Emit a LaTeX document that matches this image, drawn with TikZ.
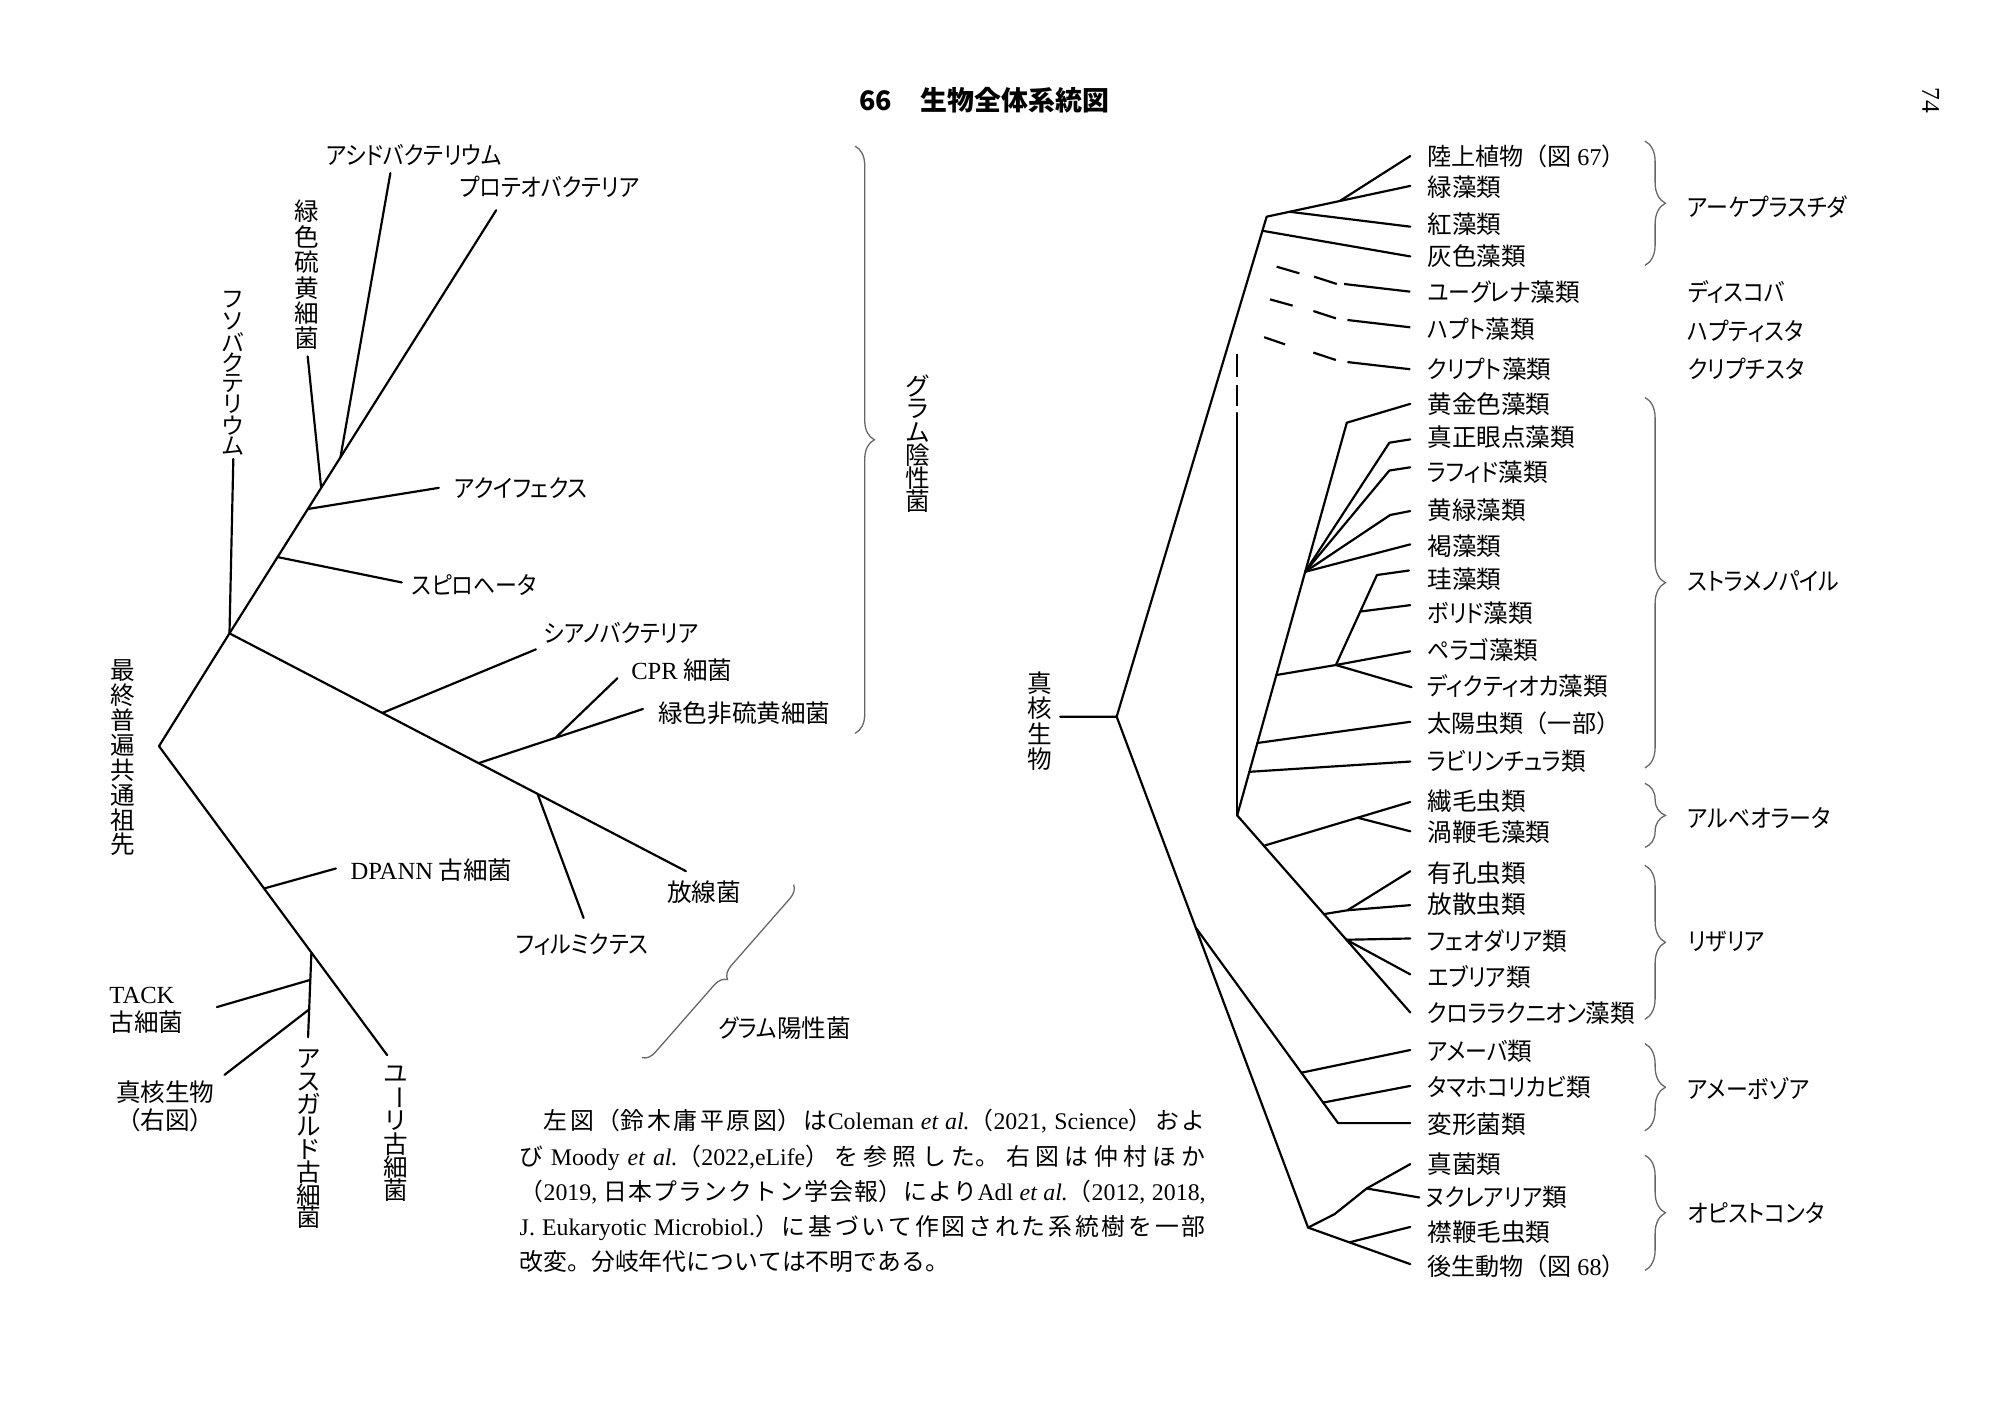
\documentclass[tikz,border=0pt]{standalone}
\usepackage{fontspec}
\setmainfont{Noto Sans CJK JP}[RawFeature={+palt}]
\newfontfamily\vfont{Noto Sans CJK JP}
\newfontfamily\knf{Noto Sans CJK JP}[RawFeature={+palt}, FakeStretch=0.89]
\newfontfamily\lat{Liberation Serif}
\newcommand\kn[1]{{\knf #1}}
\usetikzlibrary{decorations.pathreplacing}
\tikzset{
  br/.style={line width=0.85pt, line cap=round, line join=round},
  dsh/.style={line width=0.85pt, line cap=butt},
  lab/.style={inner sep=0pt, font=\fontsize{9.6}{11}\selectfont},
  flab/.style={inner sep=0pt, font=\vfont\fontsize{9.4}{11}\selectfont},
  vch/.style={inner sep=0pt, font=\vfont\fontsize{9.6}{11}\selectfont},
  vchs/.style={inner sep=0pt, font=\vfont\fontsize{9}{11}\selectfont},
  gbr/.style={decorate, decoration={brace, amplitude=#1}, draw=black!60, line width=0.5pt},
}
\newcommand\vtxt[5]{\foreach \c [count=\i from 0] in {#5} {\node[vch] (#1\i) at (#2,{#3+\i*#4}) {\c};}}
\newcommand\vtxts[5]{\foreach \c [count=\i from 0] in {#5} {\node[vchs] (#1\i) at (#2,{#3+\i*#4}) {\c};}}
\begin{document}
\begin{tikzpicture}[x=0.5pt,y=-0.5pt]
\useasboundingbox[fill=white] (0,0) rectangle (1560,1100);

% ---------- title ----------
\node[anchor=west, inner sep=0pt, font=\bfseries\fontsize{10.5}{12}\selectfont] (title) at (670,78) {66\hspace{11pt}生物全体系統図};
\node[rotate=-90, inner sep=0pt, font=\lat\fontsize{10}{12}\selectfont] (pg) at (1506,78) {74};

% ---------- left tree ----------
\coordinate (U) at (124,582);
\coordinate (A) at (179,494);
\coordinate (tFuso) at (182,358);
\coordinate (tProt) at (387,164);
\coordinate (bAcid) at (265.5,357); \coordinate (tAcid) at (304.5,135);
\coordinate (bGSB) at (250.5,380.5); \coordinate (tGSB) at (240,278);
\coordinate (bAqu) at (240.2,397); \coordinate (tAqu) at (342.3,380.5);
\coordinate (bSpi) at (216.5,434.5); \coordinate (tSpi) at (313.4,454.3);
\coordinate (tAct) at (535,679.5);
\coordinate (bCya) at (298.5,556); \coordinate (tCya) at (418,506.5);
\coordinate (bCG) at (374,595); \coordinate (jCPR) at (433.8,575);
\coordinate (tCPR) at (481.6,529); \coordinate (tGNS) at (501.5,553);
\coordinate (bFir) at (419.4,619.5); \coordinate (tFir) at (455.2,716);
\coordinate (tEur) at (302,823);
\coordinate (bDP) at (206,693); \coordinate (tDP) at (262,677.4);
\coordinate (bAsg) at (242.9,743); \coordinate (tAsg) at (240.3,809);
\coordinate (bTA) at (242,764.3); \coordinate (tTA) at (169.2,785.5);
\coordinate (bEu) at (241.3,787.2); \coordinate (tEu) at (175.1,838.4);

\draw[br] (U) -- (A) -- (tProt);
\draw[br] (A) -- (tFuso);
\draw[br] (bAcid) -- (tAcid);
\draw[br] (bGSB) -- (tGSB);
\draw[br] (bAqu) -- (tAqu);
\draw[br] (bSpi) -- (tSpi);
\draw[br] (A) -- (tAct);
\draw[br] (bCya) -- (tCya);
\draw[br] (bCG) -- (tGNS);
\draw[br] (jCPR) -- (tCPR);
\draw[br] (bFir) -- (tFir);
\draw[br] (U) -- (tEur);
\draw[br] (bDP) -- (tDP);
\draw[br] (bAsg) -- (tAsg);
\draw[br] (bTA) -- (tTA);
\draw[br] (bEu) -- (tEu);

% left labels
\node[lab, anchor=west] (lAcid) at (254,121) {\kn{アシドバクテリウム}};
\node[lab, anchor=west] (lProt) at (358,146) {\kn{プロテオバクテリア}};
\node[lab, anchor=west] (lAqu) at (354,381) {\kn{アクイフェクス}};
\node[lab, anchor=west] (lSpi) at (321,456) {\kn{スピロヘータ}};
\node[lab, anchor=west] (lCya) at (424,494) {\kn{シアノバクテリア}};
\node[lab, anchor=west] (lCPR) at (492,523) {{\lat CPR} 細菌};
\node[lab, anchor=west] (lGNS) at (513,556) {緑色非硫黄細菌};
\node[lab, anchor=west] (lAct) at (520,696) {放線菌};
\node[lab, anchor=west] (lFir) at (402,737) {\kn{フィルミクテス}};
\node[lab, anchor=west] (lDP) at (273,679) {{\lat DPANN} 古細菌};
\node[lab, anchor=west, align=left] (lTA) at (85,788) {{\lat TACK}\\古細菌};
\node[lab, align=center] (lEu) at (129,863) {真核生物\\{\vfont（右図）}};
\node[lab, anchor=west] (lGP) at (560,802) {\kn{グラム}陽性菌};

\vtxt{vLuca}{95.5}{523}{19.4}{最,終,普,遍,共,通,祖,先}
\vtxt{vGSB}{239.5}{165}{19.8}{緑,色,硫,黄,細,菌}
\vtxts{vFuso}{182}{234}{16.3}{フ,ソ,バ,ク,テ,リ,ウ,ム}
\vtxt{vAsg}{241}{826}{17.66}{ア,ス,ガ,ル,ド,古,細,菌}
\vtxt{vEur}{308.5}{838}{18.1}{ユ,{\rotatebox[origin=c]{-90}{ー}},リ,古,細,菌}
\vtxt{vGN}{716}{301}{18}{グ,ラ,ム,陰,性,菌}

% braces left
\draw[gbr=7.5pt] (667,114) -- (667,572);
\draw[gbr=5pt] (619,690) -- (500.5,825.3);

% ---------- paragraph ----------
\node[anchor=north west, inner sep=0pt, text width=267.5pt, align=justify, font=\vfont\fontsize{9.3}{13.75}\selectfont] (para) at (405,865) {%
\XeTeXlinebreaklocale "ja"\XeTeXlinebreakskip=0pt plus 3pt minus 0.8pt
{\parfillskip=0pt \hspace*{9.3pt}左図（鈴木庸平原図）は{\lat Coleman \textit{et al.}}（{\lat 2021, Science}）およ\par}
{\parfillskip=0pt び {\lat Moody \textit{et al.}}（{\lat 2022,eLife}）を参照した。 右図は仲村ほか\par}
{\parfillskip=0pt （{\lat 2019,} 日本プランクトン学会報）により{\lat Adl \textit{et al.}}（{\lat 2012, 2018,}\par}
{\parfillskip=0pt {\lat J. Eukaryotic Microbiol.}）に基づいて作図された系統樹を一部\par}
{\parfillskip=0pt plus 1fil 改変。分岐年代については不明である。\par}};

% ---------- right tree ----------
\coordinate (Rs) at (827,559);
\coordinate (R) at (871,559);
\coordinate (P) at (988,169);
\coordinate (jPl) at (1045,156.8);
\coordinate (tLand) at (1100,121.7);
\coordinate (tGreen) at (1100,145);
\coordinate (bRed) at (1006,165.2); \coordinate (tRed) at (1100,176.8);
\coordinate (bGlau) at (984.7,180); \coordinate (tGlau) at (1100,200);
\draw[br] (Rs) -- (R) -- (P) -- (tGreen);
\draw[br] (jPl) -- (tLand);
\draw[br] (bRed) -- (tRed);
\draw[br] (bGlau) -- (tGlau);

% dashed (uncertain) lines
\coordinate (e1) at (995.8,208);  \coordinate (e2) at (1013.5,213.2);
\coordinate (e3) at (1025,215.8); \coordinate (e4) at (1042.7,221.5);
\coordinate (e5) at (1048.4,221.5); \coordinate (tEug) at (1100,227.5);
\draw[dsh] (e1) -- (e2); \draw[dsh] (e3) -- (e4); \draw[dsh] (e5) -- (tEug);
\coordinate (h1) at (990.6,233.5); \coordinate (h2) at (1008.3,238.4);
\coordinate (h3) at (1024.4,242.6); \coordinate (h4) at (1042,248.3);
\coordinate (h5) at (1051,249.6); \coordinate (tHap) at (1100,255.3);
\draw[dsh] (h1) -- (h2); \draw[dsh] (h3) -- (h4); \draw[dsh] (h5) -- (tHap);
\coordinate (c1) at (986,263); \coordinate (c2) at (1002.3,268.6);
\coordinate (c3) at (1024.4,275); \coordinate (c4) at (1042,280.8);
\coordinate (c5) at (1051,282.4); \coordinate (tCry) at (1100,288);
\draw[dsh] (c1) -- (c2); \draw[dsh] (c3) -- (c4); \draw[dsh] (c5) -- (tCry);

% SAR stem
\coordinate (S) at (965,636);
\coordinate (v1) at (965,276); \coordinate (v2) at (965,294);
\coordinate (v3) at (965,300); \coordinate (v4) at (965,317);
\coordinate (v5) at (965,322);
\draw[dsh] (v1) -- (v2); \draw[dsh] (v3) -- (v4);
\draw[br] (v5) -- (S);

% stramenopiles
\coordinate (J) at (1050.5,329.7); \coordinate (tGold) at (1100,315);
\coordinate (F) at (1018,446);
\coordinate (kEus) at (1083.7,345.3); \coordinate (tEus) at (1100,342.7);
\coordinate (kRap) at (1083.7,367); \coordinate (tRap) at (1100,364.5);
\coordinate (kXan) at (1084.3,401.7); \coordinate (tXan) at (1100,398.6);
\coordinate (tPha) at (1100,424.6);
\coordinate (bPel) at (995.6,526.5); \coordinate (N) at (1042,518.7);
\coordinate (tPel) at (1100,508); \coordinate (tDic) at (1101,536);
\coordinate (kDia) at (1074,448.5); \coordinate (tDia) at (1099,445);
\coordinate (bBol) at (1061,477); \coordinate (tBol) at (1100,472);
\coordinate (bHel) at (980.8,579.5); \coordinate (tHel) at (1100,563);
\coordinate (bLab) at (974.5,602); \coordinate (tLab) at (1100,594);
\draw[br] (S) -- (J) -- (tGold);
\draw[br] (F) -- (kEus) -- (tEus);
\draw[br] (F) -- (kRap) -- (tRap);
\draw[br] (F) -- (kXan) -- (tXan);
\draw[br] (F) -- (tPha);
\draw[br] (bPel) -- (N) -- (tPel);
\draw[br] (N) -- (tDic);
\draw[br] (N) -- (kDia) -- (tDia);
\draw[br] (bBol) -- (tBol);
\draw[br] (bHel) -- (tHel);
\draw[br] (bLab) -- (tLab);

% alveolates, rhizaria
\coordinate (tChl) at (1100,789.7);
\draw[br] (S) -- (tChl);
\coordinate (bAlv) at (985.8,659.7); \coordinate (tCil) at (1100,625.5);
\coordinate (bDin) at (1058.9,637.8); \coordinate (tDin) at (1100,648.4);
\draw[br] (bAlv) -- (tCil);
\draw[br] (bDin) -- (tDin);
\coordinate (bRhi) at (1032.6,713); \coordinate (jRhi) at (1051,710);
\coordinate (tRad) at (1100,706); \coordinate (tFor) at (1100,679.5);
\draw[br] (bRhi) -- (jRhi) -- (tRad);
\draw[br] (jRhi) -- (tFor);
\coordinate (bPhe) at (1050.2,733); \coordinate (tPhe) at (1100,732);
\coordinate (tEbr) at (1100,760);
\draw[br] (bPhe) -- (tPhe);
\draw[br] (bPhe) -- (tEbr);

% amoebozoa, opisthokonta
\coordinate (O) at (1020.3,957.5);
\coordinate (Q) at (933,724);
\draw[br] (R) -- (O);
\coordinate (aA) at (1015,836.7); \coordinate (aD) at (1032,860);
\coordinate (aM) at (1043.7,876); \coordinate (tMyx) at (1100,876);
\coordinate (tAmo) at (1100,819); \coordinate (tDct) at (1100,847);
\draw[br] (Q) -- (aM) -- (tMyx);
\draw[br] (aA) -- (tAmo);
\draw[br] (aD) -- (tDct);
\coordinate (o1) at (1041,947); \coordinate (o2) at (1066,927);
\coordinate (tFun) at (1100,908); \coordinate (tNuc) at (1107,934);
\coordinate (tMet) at (1100,986);
\coordinate (bCho) at (1052.6,969); \coordinate (tCho) at (1100,957);
\draw[br] (O) -- (o1) -- (o2) -- (tFun);
\draw[br] (o2) -- (tNuc);
\draw[br] (O) -- (tMet);
\draw[br] (bCho) -- (tCho);

% right labels
\vtxt{vEuk}{811}{533}{19.7}{真,核,生,物}
\node[flab, anchor=west] (r1) at (1113,122) {陸上植物（図 {\lat 67}）};
\node[lab, anchor=west] (r2) at (1113,146) {緑藻類};
\node[lab, anchor=west] (r3) at (1113,175) {紅藻類};
\node[lab, anchor=west] (r4) at (1113,200) {灰色藻類};
\node[lab, anchor=west] (r5) at (1113,228) {\kn{ユーグレナ}藻類};
\node[lab, anchor=west] (r6) at (1113,257) {\kn{ハプト}藻類};
\node[lab, anchor=west] (r7) at (1113,288) {\kn{クリプト}藻類};
\node[lab, anchor=west] (r8) at (1113,315) {黄金色藻類};
\node[lab, anchor=west] (r9) at (1113,341) {真正眼点藻類};
\node[lab, anchor=west] (r10) at (1113,368) {\kn{ラフィド}藻類};
\node[lab, anchor=west] (r11) at (1113,398) {黄緑藻類};
\node[lab, anchor=west] (r12) at (1113,426) {褐藻類};
\node[lab, anchor=west] (r13) at (1113,452) {珪藻類};
\node[lab, anchor=west] (r14) at (1113,478) {\kn{ボリド}藻類};
\node[lab, anchor=west] (r15) at (1113,507) {\kn{ペラゴ}藻類};
\node[lab, anchor=west] (r16) at (1113,535) {\kn{ディクティオカ}藻類};
\node[flab, anchor=west] (r17) at (1113,564) {太陽虫類（一部）};
\node[lab, anchor=west] (r18) at (1113,594) {\kn{ラビリンチュラ}類};
\node[lab, anchor=west] (r19) at (1113,625) {繊毛虫類};
\node[lab, anchor=west] (r20) at (1113,649) {渦鞭毛藻類};
\node[lab, anchor=west] (r21) at (1113,681) {有孔虫類};
\node[lab, anchor=west] (r22) at (1113,705) {放散虫類};
\node[lab, anchor=west] (r23) at (1113,734) {\kn{フェオダリア}類};
\node[lab, anchor=west] (r24) at (1113,762) {\kn{エブリア}類};
\node[lab, anchor=west] (r25) at (1113,790) {\kn{クロララクニオン}藻類};
\node[lab, anchor=west] (r26) at (1113,820) {\kn{アメーバ}類};
\node[lab, anchor=west] (r27) at (1113,848) {\kn{タマホコリカビ}類};
\node[lab, anchor=west] (r28) at (1113,877) {変形菌類};
\node[lab, anchor=west] (r29) at (1113,908) {真菌類};
\node[lab, anchor=west] (r30) at (1112,934) {\kn{ヌクレアリア}類};
\node[lab, anchor=west] (r31) at (1113,961) {襟鞭毛虫類};
\node[flab, anchor=west] (r32) at (1113,988) {後生動物（図 {\lat 68}）};

% right braces and group labels
\draw[gbr=8pt] (1283,110) -- (1283,207);
\draw[gbr=8pt] (1283,310) -- (1283,599);
\draw[gbr=8pt] (1283,611) -- (1283,661);
\draw[gbr=8pt] (1283,675) -- (1283,795);
\draw[gbr=8pt] (1283,814) -- (1283,882);
\draw[gbr=8pt] (1283,901) -- (1283,991);
\node[lab, anchor=west] (g1) at (1316,161) {\kn{アーケプラスチダ}};
\node[lab, anchor=west] (g2) at (1316,228) {\kn{ディスコバ}};
\node[lab, anchor=west] (g3) at (1316,258) {\kn{ハプティスタ}};
\node[lab, anchor=west] (g4) at (1316,288) {\kn{クリプチスタ}};
\node[lab, anchor=west] (g5) at (1316,453) {\kn{ストラメノパイル}};
\node[lab, anchor=west] (g6) at (1316,638) {\kn{アルベオラータ}};
\node[lab, anchor=west] (g7) at (1316,734) {\kn{リザリア}};
\node[lab, anchor=west] (g8) at (1316,849) {\kn{アメーボゾア}};
\node[lab, anchor=west] (g9) at (1316,946) {\kn{オピストコンタ}};
\end{tikzpicture}
\end{document}
